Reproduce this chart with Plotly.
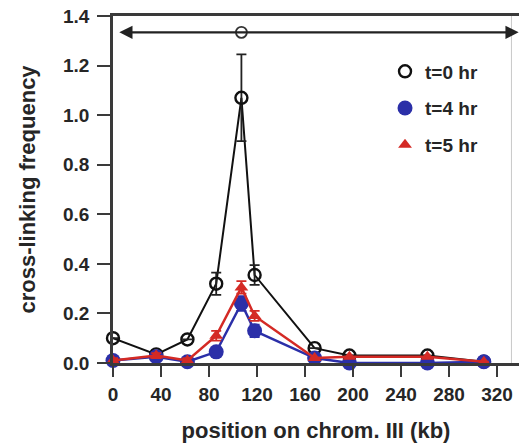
import plotly.graph_objects as go

# ---- data ----
positions_kb = [0, 36, 62, 86, 107, 118, 168, 197, 262, 309]

t0_freq = [0.10, 0.035, 0.095, 0.32, 1.07, 0.355, 0.06, 0.03, 0.03, 0.005]
t0_err = [0, 0, 0, 0.045, 0.175, 0.04, 0, 0, 0, 0]

t4_freq = [0.01, 0.025, 0.005, 0.045, 0.24, 0.13, 0.02, 0.0, 0.0, 0.005]
t4_err = [0.01, 0.01, 0.0, 0.01, 0.03, 0.025, 0, 0, 0, 0]

t5_freq = [0.01, 0.03, 0.01, 0.11, 0.305, 0.19, 0.02, 0.025, 0.025, 0.005]
t5_err = [0.01, 0.01, 0.01, 0.02, 0.025, 0.02, 0, 0, 0, 0]

series_names = ["t=0 hr", "t=4 hr", "t=5 hr"]

x_ticks = [0, 40, 80, 120, 160, 200, 240, 280, 320]
y_ticks = [0.0, 0.2, 0.4, 0.6, 0.8, 1.0, 1.2, 1.4]
y_tick_text = ["0.0", "0.2", "0.4", "0.6", "0.8", "1.0", "1.2", "1.4"]

# double-headed arrow spanning the chromosome, with a marker at the peak
arrow_y = 1.334
arrow_x_start = 4
arrow_x_end = 338
arrow_marker_x = 107

X_MAX = 338.3
FONT = "Liberation Sans, Arial, Helvetica, sans-serif"
TXT = "#262626"

fig = go.Figure()

styles = [
    dict(line=dict(color="#111111", width=2),
         marker=dict(symbol="circle-open", size=12, color="#111111", line=dict(width=2.4)),
         err_color="#222222"),
    dict(line=dict(color="#2b2fa8", width=2.5),
         marker=dict(symbol="circle", size=15, color="#2b2fa8"),
         err_color="#2b2fa8"),
    dict(line=dict(color="#d42a25", width=2.5),
         marker=dict(symbol="triangle-up", size=12, color="#d42a25"),
         err_color="#d42a25"),
]

for name, ys, errs, st in zip(series_names,
                              [t0_freq, t4_freq, t5_freq],
                              [t0_err, t4_err, t5_err], styles):
    fig.add_trace(go.Scatter(
        x=positions_kb, y=ys, mode="lines", line=st["line"],
        showlegend=False, legendgroup=name, cliponaxis=False, hoverinfo="skip"))
    fig.add_trace(go.Scatter(
        x=positions_kb, y=ys, mode="markers", name=name, legendgroup=name,
        marker=st["marker"], cliponaxis=False,
        error_y=dict(type="data", array=errs, visible=True,
                     color=st["err_color"], thickness=1.8, width=5)))

# arrow line marker
fig.add_trace(go.Scatter(
    x=[arrow_marker_x], y=[arrow_y], mode="markers", showlegend=False,
    marker=dict(symbol="circle", size=11, color="white",
                line=dict(color="#333333", width=1.8)),
    cliponaxis=False))

fig.add_annotation(
    x=arrow_x_end, y=arrow_y, ax=arrow_x_start, ay=arrow_y,
    xref="x", yref="y", axref="x", ayref="y",
    showarrow=True, arrowhead=2, startarrowhead=2, arrowside="end+start",
    arrowsize=1.2, startarrowsize=1.2, arrowwidth=2.2, arrowcolor="#222222",
    text="")

# faint right border
fig.add_shape(type="line", xref="x", yref="paper", x0=332, x1=332, y0=0, y1=1,
              line=dict(color="#c8c8c8", width=1), layer="below")

fig.update_layout(
    width=519, height=446,
    margin=dict(l=113, r=0, t=16, b=83),
    paper_bgcolor="white", plot_bgcolor="white",
    font=dict(family=FONT, size=19, color=TXT, weight="bold"),
    showlegend=True,
    legend=dict(x=0.67, y=0.895, xanchor="left", yanchor="top",
                bgcolor="rgba(255,255,255,0)",
                font=dict(size=19, color=TXT, weight="bold"),
                traceorder="grouped", tracegroupgap=9, itemsizing="trace"),
    xaxis=dict(range=[0, X_MAX], tickvals=x_ticks, ticks="outside", ticklen=11,
               tickwidth=2.2, tickcolor="#3a3a3a", showline=True, linewidth=2.5,
               linecolor="#3a3a3a", mirror=True, showgrid=False, zeroline=False,
               automargin=False, ticklabelstandoff=1,
               tickfont=dict(size=19, color=TXT, weight="bold"),
               title=dict(text="position on chrom. III (kb)", standoff=20,
                          font=dict(size=22, color=TXT, weight="bold"))),
    yaxis=dict(range=[0, 1.4], tickvals=y_ticks, ticktext=y_tick_text,
               ticks="outside", ticklen=13, tickwidth=2.2, tickcolor="#3a3a3a",
               showline=True, linewidth=2.5, linecolor="#3a3a3a",
               showgrid=False, zeroline=False, automargin=False,
               ticklabelstandoff=4,
               tickfont=dict(size=19, color=TXT, weight="bold"),
               title=dict(text="cross-linking frequency", standoff=22,
                          font=dict(size=22, color=TXT, weight="bold"))),
)

fig.write_html("out.html")
